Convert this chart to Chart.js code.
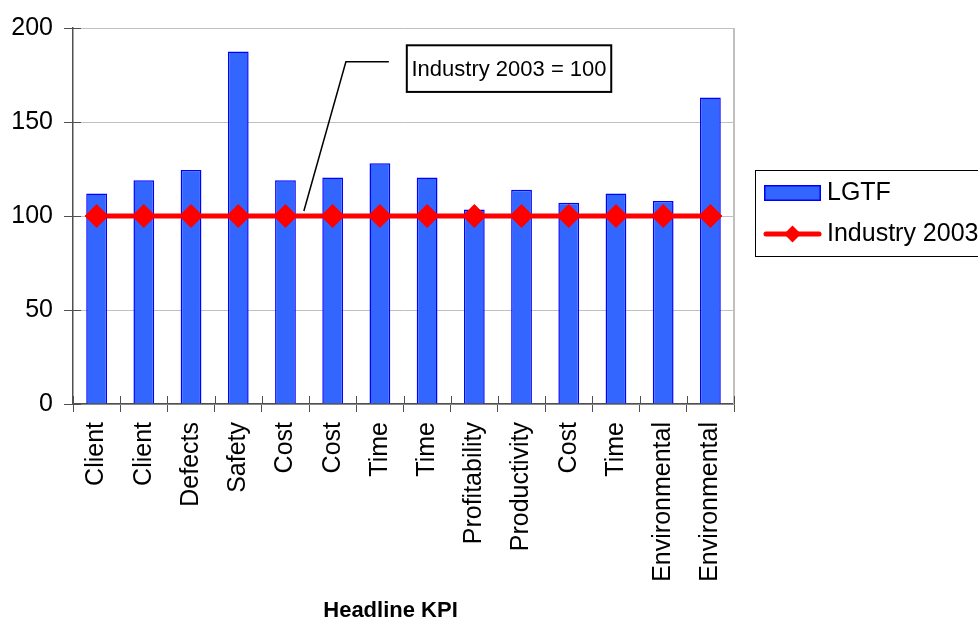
<!DOCTYPE html>
<html>
<head>
<meta charset="utf-8">
<title>Headline KPI</title>
<script src="https://cdn.jsdelivr.net/npm/chart.js@4/dist/chart.umd.min.js"></script>
<style>
  html, body { margin: 0; padding: 0; background: #ffffff; overflow: hidden; }
  #wrap { width: 978px; height: 621px; position: relative; }
</style>
</head>
<body>
<div id="wrap"><canvas id="kpiChart"></canvas></div>
<script>
// Headline KPI scores, indexed so that the 2003 industry average = 100
const categories = ['Client', 'Client', 'Defects', 'Safety', 'Cost', 'Cost', 'Time', 'Time',
                    'Profitability', 'Productivity', 'Cost', 'Time', 'Environmental', 'Environmental'];
const lgtfValues = [112, 119, 124.5, 187.5, 119, 120.5, 128, 120.5, 103.5, 114, 107, 112, 108, 163];
const industryValues = [100, 100, 100, 100, 100, 100, 100, 100, 100, 100, 100, 100, 100, 100];
const yTicks = [0, 50, 100, 150, 200];
const seriesNames = ['LGTF', 'Industry 2003'];
const axisTitle = 'Headline KPI';
const calloutText = 'Industry 2003 = 100';

const FONT = '"Liberation Sans", Arial, Helvetica, sans-serif';
const AXIS = '#505050';
const GRID = '#C0C0C0';
const BAR_FILL = '#3366FF';
const BAR_EDGE = '#0000FF';
const LINE_RED = '#FF0000';

// Plot frame (right edge), inner half of the crossing tick marks, axis title
const frameAndTicks = {
  id: 'frameAndTicks',
  beforeDatasetsDraw(chart) {
    const { ctx, chartArea: a } = chart;
    ctx.save();
    ctx.strokeStyle = GRID;
    ctx.lineWidth = 2;
    ctx.beginPath();
    ctx.moveTo(a.right, a.top);
    ctx.lineTo(a.right, a.bottom);
    ctx.stroke();
    ctx.restore();
  },
  afterDraw(chart) {
    const { ctx, chartArea: a, scales: { x, y } } = chart;
    ctx.save();
    ctx.strokeStyle = AXIS;
    ctx.lineWidth = 1;
    ctx.beginPath();
    y.ticks.forEach(t => {
      const py = Math.round(y.getPixelForValue(t.value)) + 0.5;
      ctx.moveTo(a.left, py);
      ctx.lineTo(a.left + 8, py);
    });
    for (let i = 0; i <= categories.length; i++) {
      const px = Math.round(x.getPixelForValue(i - 0.5)) + 0.5;
      ctx.moveTo(px, a.bottom);
      ctx.lineTo(px, a.bottom - 8);
    }
    ctx.stroke();

    // category axis title, sitting slightly left of the plot centre
    ctx.fillStyle = '#000000';
    ctx.font = 'bold 22px ' + FONT;
    ctx.textAlign = 'center';
    ctx.textBaseline = 'alphabetic';
    ctx.fillText(axisTitle, (a.left + a.right) / 2 - 13, x.bottom - 4);
    ctx.restore();
  }
};

// Boxed legend to the right of the plot
const boxLegend = {
  id: 'boxLegend',
  afterDraw(chart) {
    const { ctx, chartArea: a } = chart;
    const ds = chart.data.datasets;
    const left = a.right + 21;
    const top = (a.top + a.bottom) / 2 - 46;
    ctx.save();
    ctx.fillStyle = '#ffffff';
    ctx.fillRect(left, top, 400, 86);
    ctx.strokeStyle = '#000000';
    ctx.lineWidth = 1;
    ctx.strokeRect(left + 0.5, top + 0.5, 400, 86);

    const swX = left + 9, swW = 57;
    const y1 = top + 23, y2 = top + 64;

    // bar series swatch
    ctx.fillStyle = ds[0].backgroundColor;
    ctx.fillRect(swX, y1 - 8, swW, 16);
    ctx.strokeStyle = ds[0].borderColor;
    ctx.lineWidth = 1.5;
    ctx.strokeRect(swX + 0.75, y1 - 7.25, swW - 1.5, 14.5);

    // line series swatch with diamond marker
    ctx.strokeStyle = ds[1].borderColor;
    ctx.lineWidth = 5;
    ctx.lineCap = 'round';
    ctx.beginPath();
    ctx.moveTo(swX + 2, y2);
    ctx.lineTo(swX + swW - 2, y2);
    ctx.stroke();
    const cx = swX + swW / 2, r = 8.5;
    ctx.fillStyle = ds[1].pointBackgroundColor;
    ctx.beginPath();
    ctx.moveTo(cx, y2 - r);
    ctx.lineTo(cx + r, y2);
    ctx.lineTo(cx, y2 + r);
    ctx.lineTo(cx - r, y2);
    ctx.closePath();
    ctx.fill();

    ctx.fillStyle = '#000000';
    ctx.font = '25px ' + FONT;
    ctx.textAlign = 'left';
    ctx.textBaseline = 'middle';
    ctx.fillText(ds[0].label, swX + swW + 6, y1);
    ctx.fillText(ds[1].label, swX + swW + 6, y2);
    ctx.restore();
  }
};

// Boxed note with a leader line pointing at the industry line
const callout = {
  id: 'callout',
  afterDraw(chart) {
    const { ctx, scales: { x, y } } = chart;
    const tipX = x.getPixelForValue(4.39), tipY = y.getPixelForValue(102.7);
    const kneeX = x.getPixelForValue(5.28), kneeY = y.getPixelForValue(182);
    const endX = x.getPixelForValue(6.19);
    const bx0 = x.getPixelForValue(6.57), bx1 = x.getPixelForValue(10.9);
    const by0 = y.getPixelForValue(190.8), by1 = y.getPixelForValue(166);
    ctx.save();
    ctx.strokeStyle = '#000000';
    ctx.lineWidth = 1.5;
    ctx.beginPath();
    ctx.moveTo(tipX, tipY);
    ctx.lineTo(kneeX, kneeY);
    ctx.lineTo(endX, kneeY);
    ctx.stroke();

    ctx.fillStyle = '#ffffff';
    ctx.fillRect(bx0, by0, bx1 - bx0, by1 - by0);
    ctx.lineWidth = 2;
    ctx.strokeRect(bx0, by0, bx1 - bx0, by1 - by0);
    ctx.fillStyle = '#000000';
    ctx.font = '22px ' + FONT;
    ctx.textAlign = 'center';
    ctx.textBaseline = 'middle';
    ctx.fillText(calloutText, (bx0 + bx1) / 2, (by0 + by1) / 2 + 1);
    ctx.restore();
  }
};

new Chart(document.getElementById('kpiChart'), {
  type: 'bar',
  data: {
    labels: categories,
    datasets: [
      {
        type: 'bar',
        label: seriesNames[0],
        data: lgtfValues,
        backgroundColor: BAR_FILL,
        borderColor: BAR_EDGE,
        borderWidth: 1.5,
        borderSkipped: 'bottom',
        categoryPercentage: 1,
        barPercentage: 0.44,
        order: 2
      },
      {
        type: 'line',
        label: seriesNames[1],
        data: industryValues,
        borderColor: LINE_RED,
        borderWidth: 5,
        pointStyle: 'rectRot',
        pointRadius: 11.5,
        pointBackgroundColor: LINE_RED,
        pointBorderColor: LINE_RED,
        pointBorderWidth: 1,
        tension: 0,
        order: 1
      }
    ]
  },
  options: {
    responsive: true,
    maintainAspectRatio: false,
    animation: false,
    devicePixelRatio: 1,
    layout: { padding: { top: 28, right: 244, bottom: 0, left: 0 } },
    plugins: {
      legend: { display: false },
      tooltip: { enabled: false }
    },
    scales: {
      x: {
        offset: true,
        grid: {
          offset: true,
          drawOnChartArea: false,
          color: AXIS,
          tickColor: AXIS,
          tickLength: 8,
          lineWidth: 1
        },
        border: { display: true, color: AXIS, width: 1.5 },
        ticks: {
          autoSkip: false,
          minRotation: 90,
          maxRotation: 90,
          padding: 10,
          color: '#000000',
          font: { family: FONT, size: 25 }
        },
        title: { display: false },
        afterFit(scale) { scale.height = 217; }
      },
      y: {
        min: 0,
        max: 200,
        afterBuildTicks(scale) { scale.ticks = yTicks.map(v => ({ value: v })); },
        grid: {
          color: GRID,
          tickColor: AXIS,
          tickLength: 9,
          lineWidth: 1
        },
        border: { display: true, color: AXIS, width: 1.5 },
        ticks: {
          padding: 11,
          color: '#000000',
          font: { family: FONT, size: 25 }
        },
        afterFit(scale) { scale.width = 73; }
      }
    }
  },
  plugins: [frameAndTicks, boxLegend, callout]
});
</script>
</body>
</html>
